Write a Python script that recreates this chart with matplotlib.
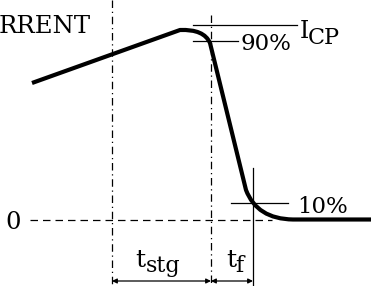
# Turn-off current waveform (storage time and fall time)

import matplotlib.pyplot as plt
from matplotlib.path import Path
from matplotlib.patches import PathPatch

plt.rcParams['font.family'] = 'DejaVu Serif'

# Waveform key points (x = time, y = level in drawing units, y grows downward)
wave_t = [32, 180, 204, 210, 246, 257, 293, 371]
wave_i = [83, 30, 29, 43, 190, 219, 219.5, 219.5]
wave_codes = [Path.MOVETO, Path.LINETO, Path.CURVE3, Path.CURVE3,
              Path.LINETO, Path.CURVE3, Path.CURVE3, Path.LINETO]

# Reference levels
level_zero = 220
level_icp = 25
level_90 = 41
level_10 = 203

# Time markers
t_off = 112
t_90 = 211
t_10 = 253
arrow_y = 281

fig = plt.figure(figsize=(3.71, 2.86), dpi=100)
ax = fig.add_axes([0, 0, 1, 1])
ax.set_xlim(0, 371)
ax.set_ylim(286, 0)
ax.axis("off")

# dash-dot markers
ax.plot([t_off, t_off], [0, 286], color="black", lw=0.9, ls=(0, (6, 3, 1, 3)))
ax.plot([t_90, t_90], [15, 286], color="black", lw=0.9, ls=(0, (6, 3, 1, 3)))

# zero line
ax.plot([30, 272], [level_zero, level_zero], color="black", lw=0.9, ls=(0, (6, 4)))
ax.text(13, 229, "0", fontsize=17.5, ha="center", va="baseline")

# level lines
ax.plot([193, 297], [level_icp, level_icp], color="black", lw=0.9)
ax.plot([193, 238], [level_90, level_90], color="black", lw=0.9)
ax.plot([231, 288], [level_10, level_10], color="black", lw=0.9)
ax.plot([t_10, t_10], [168, 286], color="black", lw=0.9)

ax.text(240, 50, "90%", fontsize=16.5, ha="left", va="baseline")
ax.text(300, 38, "I", fontsize=17, ha="left", va="baseline")
ax.text(308, 44, "CP", fontsize=16, ha="left", va="baseline")
ax.text(297, 213, "10%", fontsize=16.5, ha="left", va="baseline")
ax.text(-1, 33, "RRENT", fontsize=17.5, ha="left", va="baseline")

# waveform
path = Path(list(zip(wave_t, wave_i)), wave_codes)
ax.add_patch(PathPatch(path, facecolor="none", edgecolor="black", lw=3,
                       capstyle="butt", joinstyle="round"))

# time arrows
arrow = dict(arrowstyle="<|-|>", color="black", lw=0.9, mutation_scale=7,
             shrinkA=0, shrinkB=0)
ax.annotate("", xy=(t_off, arrow_y), xytext=(t_90, arrow_y), arrowprops=arrow)
ax.annotate("", xy=(t_90, arrow_y), xytext=(t_10, arrow_y), arrowprops=arrow)
ax.text(135, 267, "t", fontsize=18, ha="left", va="baseline")
ax.text(146, 272, "stg", fontsize=16, ha="left", va="baseline")
ax.text(226, 267, "t", fontsize=18, ha="left", va="baseline")
ax.text(235, 272, "f", fontsize=16, ha="left", va="baseline")

plt.savefig("out.png")
